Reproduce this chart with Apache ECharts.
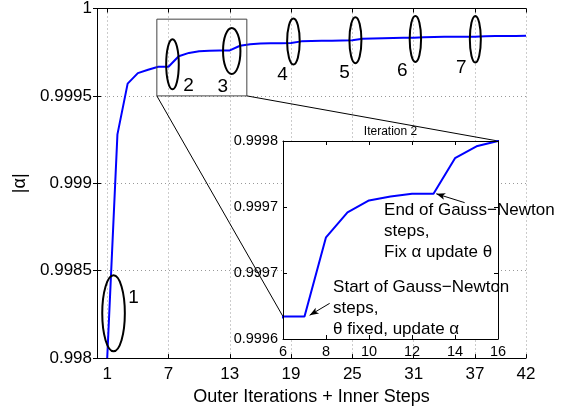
<!DOCTYPE html>
<html><head><meta charset="utf-8">
<script src="https://cdn.jsdelivr.net/npm/echarts@6/dist/echarts.min.js"></script>
<style>html,body{margin:0;padding:0;background:#fff}#c{width:573px;height:411px}</style>
</head><body><div id="c"></div>
<script>
// ---- data ----
const steps = [1,2,3,4,5,6,7,8,9,10,11,12,13,14,15,16,17,18,19,20,21,22,23,24,25,26,27,28,29,30,31,32,33,34,35,36,37,38,39,40,41,42];
const alpha = [0.998,0.99928,0.99957,0.99963,0.99965,0.999667,0.999667,0.999727,0.999746,0.999755,0.999758,0.99976,0.99976,0.999787,0.999796,0.9998,0.999801,0.999801,0.999802,0.999812,0.999814,0.999815,0.999816,0.999817,0.999818,0.999827,0.999829,0.99983,0.999831,0.999832,0.999833,0.999836,0.999837,0.999838,0.999838,0.999839,0.999839,0.999841,0.999842,0.999843,0.999843,0.999844];
const mainXTicks = [1,7,13,19,25,31,37,42];
const insetYLabels = ['0.9996','0.9997','0.9997','0.9998'];
const ellipseLabels = ['1','2','3','4','5','6','7'];
const insetTitle = 'Iteration 2';
const xName = 'Outer Iterations + Inner Steps';
const yName = '|\u03b1|';
const noteEnd = 'End of Gauss\u2212Newton\nsteps,\nFix \u03b1 update \u03b8';
const noteStart = 'Start of Gauss\u2212Newton\nsteps,\n\u03b8 fixed, update \u03b1';

// ---- annotation placement (data coords) ----
const ellipses = [
  {c:[1.62,0.998256], rx:11.3, ry:38, lab:[20,-16]},
  {c:[7.39,0.999681], rx:6.3, ry:25, lab:[16,21.5]},
  {c:[13.19,0.999757], rx:8.7, ry:23, lab:[-9,36]},
  {c:[19.23,0.999811], rx:6.3, ry:23, lab:[-11,33]},
  {c:[25.3,0.999819], rx:6, ry:23, lab:[-11,32.5]},
  {c:[31.17,0.999826], rx:5.7, ry:23, lab:[-13,31.4]},
  {c:[37.04,0.999824], rx:5.5, ry:23.3, lab:[-14,29]}
];
const zoomBox = {x0:5.86, x1:14.67, y0:0.9995, y1:0.999939};

const FONT = '"Liberation Sans", Arial, Helvetica, sans-serif';
const pts = steps.map((s,i)=>[s, alpha[i]]);
const dotted = {show:true, lineStyle:{color:'#999', type:[1,3], width:1}};
const blackLine = {show:true, lineStyle:{color:'#000', width:1}};

const chart = echarts.init(document.getElementById('c'), null, {renderer:'canvas'});
const option = {
  animation:false,
  backgroundColor:'#fff',
  textStyle:{fontFamily:FONT},
  grid:[
    {left:97, right:47, top:6, bottom:46, containLabel:false},
    {left:283, right:75, top:141, bottom:72, show:true, backgroundColor:'#fff', borderWidth:0, z:5}
  ],
  xAxis:[
    {type:'value', gridIndex:0, min:0, max:42, position:'bottom',
     axisLine:blackLine, axisTick:{show:true, inside:true, length:4, customValues:mainXTicks, lineStyle:{color:'#000'}},
     axisLabel:{customValues:mainXTicks, fontSize:17, color:'#000', margin:8, fontFamily:FONT},
     splitLine:dotted,
     name:xName, nameLocation:'middle', nameGap:22, nameTextStyle:{fontSize:18, color:'#000', fontFamily:FONT, verticalAlign:'top'}},
    {type:'value', gridIndex:0, min:0, max:42, position:'top',
     axisLine:blackLine, axisTick:{show:true, inside:true, length:4, customValues:mainXTicks, lineStyle:{color:'#000'}},
     axisLabel:{show:false}, splitLine:{show:false}},
    {type:'value', gridIndex:1, min:6, max:16, interval:2, position:'bottom', z:10,
     axisLine:blackLine, axisTick:{show:true, inside:true, length:4, lineStyle:{color:'#000'}},
     axisLabel:{fontSize:14.5, color:'#000', margin:5, fontFamily:FONT}, splitLine:{show:false}},
    {type:'value', gridIndex:1, min:6, max:16, interval:2, position:'top', z:10,
     axisLine:blackLine, axisTick:{show:true, inside:true, length:4, lineStyle:{color:'#000'}},
     axisLabel:{show:false}, splitLine:{show:false},
     name:insetTitle, nameLocation:'middle', nameGap:3, nameTextStyle:{fontSize:12, color:'#000', fontFamily:FONT}}
  ],
  yAxis:[
    {type:'value', gridIndex:0, min:0.998, max:1, interval:0.0005, position:'left',
     axisLine:blackLine, axisTick:{show:true, inside:true, length:4, lineStyle:{color:'#000'}},
     axisLabel:{fontSize:17, color:'#000', margin:5, fontFamily:FONT, formatter:v=>String(parseFloat(v.toFixed(4)))},
     splitLine:dotted,
     name:yName, nameLocation:'middle', nameGap:57, nameRotate:90, nameTextStyle:{fontSize:18, color:'#000', fontFamily:FONT}},
    {type:'value', gridIndex:0, min:0.998, max:1, interval:0.0005, position:'right',
     axisLine:blackLine, axisTick:{show:true, inside:true, length:4, lineStyle:{color:'#000'}},
     axisLabel:{show:false}, splitLine:{show:false}},
    {type:'value', gridIndex:1, min:0.99965, max:0.9998, interval:0.00005, position:'left', z:10,
     axisLine:blackLine, axisTick:{show:true, inside:true, length:4, lineStyle:{color:'#000'}},
     axisLabel:{fontSize:14.5, color:'#000', margin:5, fontFamily:FONT, formatter:(v,i)=>insetYLabels[i]},
     splitLine:{show:false}},
    {type:'value', gridIndex:1, min:0.99965, max:0.9998, interval:0.00005, position:'right', z:10,
     axisLine:blackLine, axisTick:{show:true, inside:true, length:4, lineStyle:{color:'#000'}},
     axisLabel:{show:false}, splitLine:{show:false}}
  ],
  series:[
    {type:'line', xAxisIndex:0, yAxisIndex:0, data:pts, showSymbol:false, symbol:'none', z:2,
     lineStyle:{color:'#0000ff', width:2}},
    {type:'line', xAxisIndex:2, yAxisIndex:2, data:pts, showSymbol:false, symbol:'none', z:8, clip:true,
     lineStyle:{color:'#0000ff', width:2},
     markLine:{silent:true, z:30, symbol:['none','arrow'], symbolSize:[5,9], label:{show:false},
       lineStyle:{color:'#000', width:1, type:'solid'},
       data:[
         [{coord:[14.45,0.9997533]},{coord:[13.13,0.99976]}],
         [{coord:[8.17,0.999677]},{coord:[7.24,0.999668]}]
       ]}}
  ]
};
chart.setOption(option);

function P(g, x, y){ return chart.convertToPixel({gridIndex:g}, [x,y]); }
const gfx = [];
ellipses.forEach((e,i)=>{
  const p = P(0, e.c[0], e.c[1]);
  gfx.push({type:'ellipse', z:20, silent:true, shape:{cx:p[0], cy:p[1], rx:e.rx, ry:e.ry},
    style:{fill:'none', stroke:'#000', lineWidth:2}});
  gfx.push({type:'text', z:20, silent:true, x:p[0]+e.lab[0], y:p[1]+e.lab[1],
    style:{text:ellipseLabels[i], font:'19px '+FONT, fill:'#000', textAlign:'center', textVerticalAlign:'middle'}});
});
const b0 = P(0, zoomBox.x0, zoomBox.y0), b1 = P(0, zoomBox.x1, zoomBox.y1);
gfx.push({type:'rect', z:3, silent:true, shape:{x:b0[0], y:b1[1], width:b1[0]-b0[0], height:b0[1]-b1[1]},
  style:{fill:'none', stroke:'#444', lineWidth:1}});
const bBR = P(0, zoomBox.x1, zoomBox.y0);
const i0 = P(1, 6, alpha[steps.indexOf(6)]);
const i1 = P(1, 16, 0.9998);
gfx.push({type:'line', z:3, silent:true, shape:{x1:b0[0], y1:b0[1], x2:i0[0], y2:i0[1]}, style:{stroke:'#000', lineWidth:1}});
gfx.push({type:'line', z:3, silent:true, shape:{x1:bBR[0], y1:bBR[1], x2:i1[0], y2:i1[1]}, style:{stroke:'#000', lineWidth:1}});
const tEnd = P(1, 10.7, 0.9997557);
const tStart = P(1, 8.33, 0.999697);
gfx.push({type:'text', z:30, silent:true, x:tEnd[0], y:tEnd[1],
  style:{text:noteEnd, font:'17px '+FONT, fill:'#000', textAlign:'left', textVerticalAlign:'top', lineHeight:21}});
gfx.push({type:'text', z:30, silent:true, x:tStart[0], y:tStart[1],
  style:{text:noteStart, font:'17px '+FONT, fill:'#000', textAlign:'left', textVerticalAlign:'top', lineHeight:21}});
chart.setOption({graphic:{elements:gfx}});
</script></body></html>
